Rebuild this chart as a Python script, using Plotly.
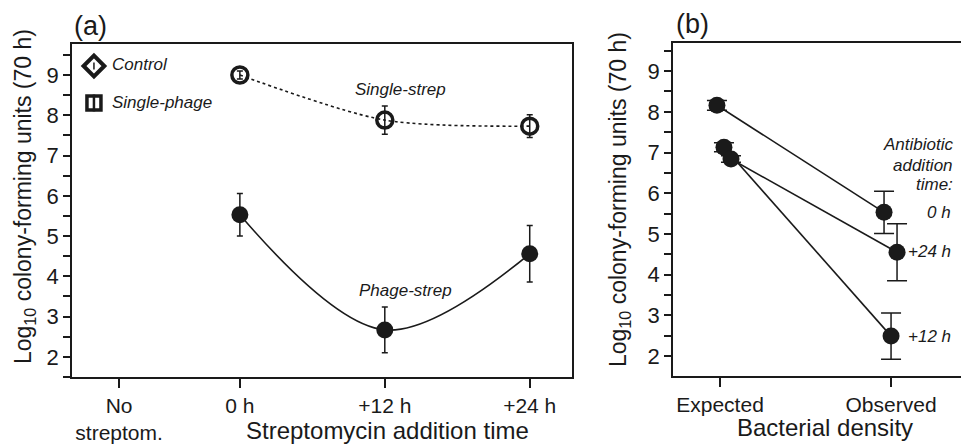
import plotly.graph_objects as go

# ---------------- data ----------------
# Panel (a)
time_labels = ["No<br>streptom.", "0 h", "+12 h", "+24 h"]
time_hours = [-10, 0, 12, 24]          # axis positions of the categories (h)
strep_times = [0, 12, 24]
single_strep = [9.00, 7.88, 7.73]
single_strep_err = [0.10, 0.35, 0.28]
phage_strep = [5.53, 2.67, 4.56]
phage_strep_err = [0.53, 0.57, 0.70]

# Panel (b)
density_labels = ["Expected", "Observed"]
addition_labels = ["0 h", "+12 h", "+24 h"]
expected = [8.16, 7.13, 6.84]
expected_err = [0.12, 0.11, 0.08]
observed = [5.53, 2.49, 4.55]
observed_err = [0.52, 0.57, 0.70]

yticks = [2, 3, 4, 5, 6, 7, 8, 9]

# ---------------- layout helpers ----------------
W, H = 961, 446
FONT = "Liberation Sans, Arial, Helvetica, sans-serif"
INK = "#1a1a1a"

def px(x):
    return x / W

def py(y):
    return 1 - y / H

# small horizontal jitter (in category units) used in panel (b)
jit_exp = [-0.018, 0.023, 0.064]
jit_obs = [-0.041, 0.0, 0.035]

fig = go.Figure()

# ----- panel (a) -----
fig.add_trace(go.Scatter(
    x=strep_times, y=single_strep, mode="lines+markers",
    line=dict(color=INK, width=1.6, dash="dot", shape="spline", smoothing=0.8),
    marker=dict(symbol="circle-open", size=16, color=INK, line=dict(width=3.5, color=INK)),
    error_y=dict(type="data", array=single_strep_err, color=INK, thickness=1.5, width=3),
    xaxis="x", yaxis="y", showlegend=False))

fig.add_trace(go.Scatter(
    x=strep_times, y=phage_strep, mode="lines+markers",
    line=dict(color=INK, width=1.6, shape="spline", smoothing=1.0),
    marker=dict(symbol="circle", size=17, color=INK),
    error_y=dict(type="data", array=phage_strep_err, color=INK, thickness=1.5, width=3),
    xaxis="x", yaxis="y", showlegend=False))

# legend keys for panel (a) (pixel -> data conversion of the key positions)
def ax_a(xp, yp):
    return (xp - 240) / (145 / 12), 9 - (yp - 74) / 40.3

kx, ky1 = ax_a(94, 65)
_, ky2 = ax_a(94, 102)
fig.add_trace(go.Scatter(x=[kx], y=[ky1], mode="markers",
    marker=dict(symbol="diamond-open", size=16, color=INK, line=dict(width=4, color=INK)),
    xaxis="x", yaxis="y", showlegend=False, hoverinfo="skip"))
fig.add_trace(go.Scatter(x=[kx], y=[ky1], mode="markers",
    marker=dict(symbol="line-ns", size=5, color=INK, line=dict(width=1.5, color=INK)),
    xaxis="x", yaxis="y", showlegend=False, hoverinfo="skip"))
fig.add_trace(go.Scatter(x=[kx], y=[ky2], mode="markers",
    marker=dict(symbol="square-open", size=14, color=INK, line=dict(width=3.5, color=INK)),
    xaxis="x", yaxis="y", showlegend=False, hoverinfo="skip"))
fig.add_trace(go.Scatter(x=[kx], y=[ky2], mode="markers",
    marker=dict(symbol="line-ns", size=12, color=INK, line=dict(width=2.5, color=INK)),
    xaxis="x", yaxis="y", showlegend=False, hoverinfo="skip"))

# ----- panel (b) -----
for i, lab in enumerate(addition_labels):
    fig.add_trace(go.Scatter(
        x=[0 + jit_exp[i], 1 + jit_obs[i]], y=[expected[i], observed[i]],
        mode="lines+markers", name=lab,
        line=dict(color=INK, width=1.6),
        marker=dict(symbol="circle", size=17, color=INK),
        error_y=dict(type="data", array=[expected_err[i], observed_err[i]],
                     color=INK, thickness=1.5, width=10),
        xaxis="x2", yaxis="y2", showlegend=False))

axis_common = dict(showline=True, linecolor=INK, linewidth=1.6, ticks="outside",
                   tickcolor=INK, tickwidth=1.5, showgrid=False, zeroline=False,
                   tickfont=dict(family=FONT, size=21, color=INK))

fig.update_layout(
    width=W, height=H, margin=dict(l=0, r=0, t=0, b=0),
    paper_bgcolor="white", plot_bgcolor="white",
    font=dict(family=FONT, color=INK),
    xaxis=dict(axis_common, domain=[px(72), px(572)], range=[-13.9, 27.5],
               tickvals=time_hours, ticktext=time_labels, ticklen=9, mirror=True),
    yaxis=dict(axis_common, domain=[py(377), py(44)], range=[1.5, 9.77],
               tickvals=yticks, ticklen=7, mirror=True,
               tickfont=dict(family=FONT, size=22, color=INK),
               minor=dict(dtick=0.5, ticks="outside", ticklen=7, tickcolor=INK, tickwidth=1.5)),
    xaxis2=dict(axis_common, domain=[px(673), 1.0], range=[-0.275, 1.409],
                tickvals=[0, 1], ticktext=density_labels, ticklen=9, mirror=True,
                anchor="y2"),
    yaxis2=dict(axis_common, domain=[py(376), py(43)], range=[1.51, 9.69],
                tickvals=yticks, ticklen=7, mirror=False, anchor="x2",
                tickfont=dict(family=FONT, size=22, color=INK),
                minor=dict(dtick=0.5, ticks="outside", ticklen=7, tickcolor=INK, tickwidth=1.5)),
)

ann = []
def A(text, x, y, size=17, italic=False, xanchor="center", angle=0):
    ann.append(dict(text=text, x=px(x), y=py(y), xref="paper", yref="paper",
                    xanchor=xanchor, yanchor="middle", showarrow=False, textangle=angle,
                    font=dict(family=FONT, size=size, color=INK,
                              style="italic" if italic else "normal")))

A("(a)", 90, 26, size=27)
A("(b)", 692, 24, size=27)
ylab = "Log<sub>10</sub> colony-forming units (70 h)"
A(ylab, 24, 197, size=23, angle=-90)
A(ylab, 620, 200, size=23, angle=-90)
A("Streptomycin addition time", 387, 430, size=24)
A("Bacterial density", 825, 427, size=24)
A("Control", 110, 65, italic=True, xanchor="left")
A("Single-phage", 110, 102, italic=True, xanchor="left")
A("Single-strep", 400, 89, italic=True)
A("Phage-strep", 405, 290, italic=True)
A("Antibiotic", 955, 145, italic=True, xanchor="right")
A("addition", 955, 165, italic=True, xanchor="right")
A("time:", 955, 184, italic=True, xanchor="right")
A("0 h", 953, 212, italic=True, xanchor="right")
A("+24 h", 953, 252, italic=True, xanchor="right")
A("+12 h", 953, 336, italic=True, xanchor="right")
fig.update_layout(annotations=ann)

fig.write_html("out.html", config={"displayModeBar": False},
               post_script="document.body.style.margin='0';document.body.style.overflow='hidden';")
